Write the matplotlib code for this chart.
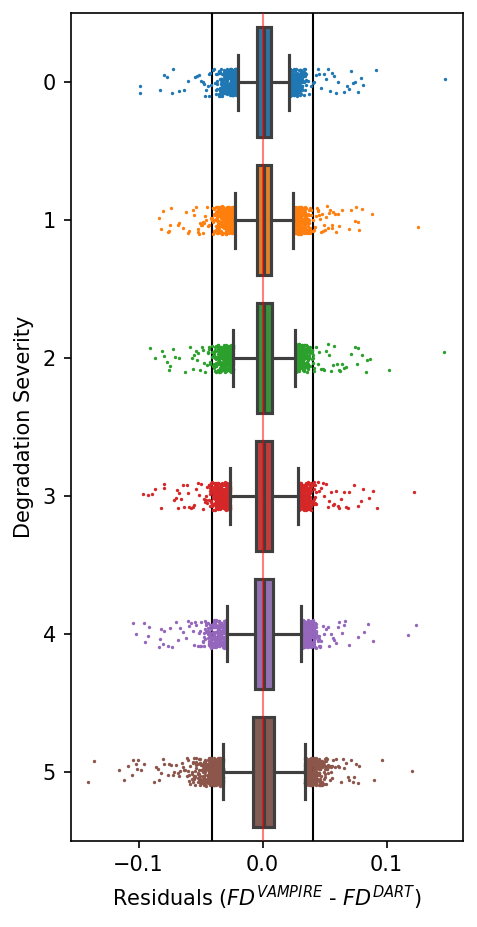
import matplotlib
matplotlib.use("Agg")
import matplotlib.pyplot as plt
import numpy as np

severity = [0, 1, 2, 3, 4, 5]

# box statistics per severity level
q1 = [-0.0042, -0.0042, -0.0048, -0.0056, -0.0064, -0.0074]
med = [0.0010, 0.0011, 0.0010, 0.0011, 0.0011, 0.0012]
q3 = [0.0066, 0.0069, 0.0073, 0.0077, 0.0081, 0.0090]
whis_lo = [-0.0199, -0.0222, -0.0237, -0.0261, -0.0287, -0.0318]
whis_hi = [0.0215, 0.0248, 0.0262, 0.0284, 0.0309, 0.0342]

# sparse outliers, read one by one
tail_0 = [-0.0989, -0.0986, -0.0825, -0.0793, -0.0774, -0.0734, -0.0720, -0.0677, -0.0632, -0.0599,
          -0.0546, -0.0530, -0.0511, -0.0497, -0.0484, -0.0470, -0.0462, -0.0457, -0.0444, -0.0435,
          -0.0430, -0.0422, -0.0417, -0.0403, -0.0395, -0.0384,
          0.0363, 0.0376, 0.0390, 0.0403, 0.0417, 0.0430, 0.0444, 0.0457, 0.0470, 0.0492,
          0.0511, 0.0524, 0.0546, 0.0559, 0.0578, 0.0591, 0.0605, 0.0659, 0.0680, 0.0699,
          0.0712, 0.0726, 0.0745, 0.0766, 0.0793, 0.0809, 0.0914, 0.1470]
tail_1 = [-0.0833, -0.0820, -0.0806, -0.0766, -0.0753, -0.0745, -0.0739, -0.0685, -0.0672, -0.0645,
          -0.0618, -0.0605, -0.0591, -0.0565, -0.0551, -0.0540, -0.0524, -0.0518, -0.0511, -0.0505,
          -0.0497, -0.0490, -0.0484, -0.0478, -0.0470, -0.0463, -0.0457, -0.0449, -0.0444, -0.0430,
          -0.0417,
          0.0417, 0.0421, 0.0430, 0.0438, 0.0444, 0.0449, 0.0457, 0.0463, 0.0470, 0.0477,
          0.0484, 0.0497, 0.0502, 0.0511, 0.0517, 0.0524, 0.0533, 0.0546, 0.0556, 0.0561,
          0.0570, 0.0583, 0.0591, 0.0605, 0.0618, 0.0637, 0.0699, 0.0712, 0.0745, 0.0753,
          0.0766, 0.0780, 0.0798, 0.0882, 0.1250]
tail_2 = [-0.0906, -0.0868, -0.0815, -0.0793, -0.0769, -0.0758, -0.0745, -0.0726, -0.0707, -0.0677,
          -0.0624, -0.0583, -0.0573, -0.0565, -0.0556, -0.0538, -0.0530, -0.0519, -0.0503, -0.0492,
          -0.0484,
          0.0430, 0.0444, 0.0457, 0.0470, 0.0484, 0.0497, 0.0511, 0.0524, 0.0538, 0.0551,
          0.0565, 0.0578, 0.0599, 0.0618, 0.0626, 0.0637, 0.0659, 0.0672, 0.0712, 0.0747,
          0.0761, 0.0772, 0.0798, 0.0833, 0.0839, 0.0868, 0.1022, 0.1462]
tail_3 = [-0.0962, -0.0927, -0.0890, -0.0868, -0.0820, -0.0798, -0.0793, -0.0712, -0.0699, -0.0691,
          -0.0685, -0.0672, -0.0659, -0.0645, -0.0632, -0.0610, -0.0599, -0.0591, -0.0578, -0.0565,
          -0.0551, -0.0538, -0.0524, -0.0511, -0.0497, -0.0484,
          0.0444, 0.0457, 0.0470, 0.0484, 0.0497, 0.0511, 0.0524, 0.0538, 0.0551, 0.0565,
          0.0578, 0.0591, 0.0605, 0.0618, 0.0632, 0.0659, 0.0672, 0.0685, 0.0699, 0.0734,
          0.0772, 0.0793, 0.0812, 0.0860, 0.0892, 0.0922, 0.1218]
tail_4 = [-0.1043, -0.1022, -0.0960, -0.0949, -0.0927, -0.0914, -0.0833, -0.0825, -0.0820, -0.0806,
          -0.0793, -0.0761, -0.0747, -0.0731, -0.0699, -0.0680, -0.0664, -0.0645, -0.0618, -0.0605,
          -0.0591, -0.0578,
          0.0470, 0.0484, 0.0497, 0.0511, 0.0524, 0.0538, 0.0551, 0.0565, 0.0578, 0.0591,
          0.0605, 0.0618, 0.0637, 0.0653, 0.0664, 0.0699, 0.0766, 0.0815, 0.0847, 0.0887,
          0.1175, 0.1237]
tail_5 = [-0.1406, -0.1363, -0.1156, -0.1121, -0.1083, -0.1054, -0.1048, -0.1022, -0.1013, -0.1008,
          -0.0981, -0.0960, -0.0874, -0.0860, -0.0847, -0.0833, -0.0820, -0.0806, -0.0793, -0.0766,
          -0.0753, -0.0739, -0.0726, -0.0712, -0.0699, -0.0685, -0.0672,
          0.0591, 0.0605, 0.0618, 0.0632, 0.0645, 0.0659, 0.0672, 0.0685, 0.0699, 0.0712,
          0.0726, 0.0739, 0.0753, 0.0766, 0.0780, 0.0901, 0.0960, 0.1202]

# dense clusters next to the whiskers, as bin centres (width 0.001) and point counts
core_x_0 = [-0.0205, -0.0215, -0.0225, -0.0235, -0.0245, -0.0255, -0.0265, -0.0275, -0.0285,
            -0.0295, -0.0305, -0.0315, -0.0325, -0.0335, -0.0345, -0.0355, -0.0365, -0.0375,
            0.0220, 0.0230, 0.0240, 0.0250, 0.0260, 0.0270, 0.0280, 0.0290, 0.0300, 0.0310,
            0.0320, 0.0330, 0.0340, 0.0350]
core_n_0 = [24, 24, 23, 22, 22, 21, 20, 19, 18, 17, 16, 14, 12, 10, 8, 6, 4, 3,
            24, 24, 23, 23, 22, 21, 20, 18, 16, 14, 11, 8, 5, 3]
core_x_1 = [-0.0228, -0.0238, -0.0248, -0.0258, -0.0268, -0.0278, -0.0288, -0.0298, -0.0308,
            -0.0318, -0.0328, -0.0338, -0.0348, -0.0358, -0.0368, -0.0378, -0.0388, -0.0398, -0.0408,
            0.0253, 0.0263, 0.0273, 0.0283, 0.0293, 0.0303, 0.0313, 0.0323, 0.0333, 0.0343,
            0.0353, 0.0363, 0.0373, 0.0383, 0.0393, 0.0403]
core_n_1 = [24, 24, 24, 23, 22, 22, 21, 20, 19, 18, 17, 16, 14, 12, 10, 8, 6, 4, 3,
            24, 24, 23, 23, 22, 21, 20, 18, 16, 13, 10, 8, 6, 4, 3, 2]
core_x_2 = [-0.0242, -0.0252, -0.0262, -0.0272, -0.0282, -0.0292, -0.0302, -0.0312, -0.0322,
            -0.0332, -0.0342, -0.0352, -0.0362, -0.0372, -0.0382, -0.0392, -0.0402, -0.0412,
            -0.0422, -0.0432, -0.0442, -0.0452, -0.0462, -0.0472,
            0.0266, 0.0276, 0.0286, 0.0296, 0.0306, 0.0316, 0.0326, 0.0336, 0.0346, 0.0356,
            0.0366, 0.0376, 0.0386, 0.0396, 0.0406, 0.0416]
core_n_2 = [24, 24, 23, 22, 22, 21, 20, 19, 18, 16, 14, 12, 10, 8, 6, 5, 4, 3, 3, 2, 2, 1, 1, 1,
            24, 24, 23, 22, 21, 20, 18, 16, 14, 12, 9, 7, 5, 4, 3, 2]
core_x_3 = [-0.0266, -0.0276, -0.0286, -0.0296, -0.0306, -0.0316, -0.0326, -0.0336, -0.0346,
            -0.0356, -0.0366, -0.0376, -0.0386, -0.0396, -0.0406, -0.0416, -0.0426, -0.0436,
            -0.0446, -0.0456, -0.0466, -0.0476,
            0.0293, 0.0303, 0.0313, 0.0323, 0.0333, 0.0343, 0.0353, 0.0363, 0.0373, 0.0383,
            0.0393, 0.0403, 0.0413, 0.0423, 0.0433]
core_n_3 = [24, 24, 23, 22, 22, 21, 20, 19, 18, 17, 15, 13, 11, 9, 7, 5, 4, 3, 2, 2, 1, 1,
            24, 24, 23, 22, 21, 20, 18, 16, 14, 12, 9, 6, 4, 3, 2]
core_x_4 = [-0.0293, -0.0303, -0.0313, -0.0323, -0.0333, -0.0343, -0.0353, -0.0363, -0.0373,
            -0.0383, -0.0393, -0.0403, -0.0413, -0.0423, -0.0433, -0.0443, -0.0453, -0.0463,
            -0.0473, -0.0483, -0.0493, -0.0503, -0.0513, -0.0523, -0.0533, -0.0543, -0.0553, -0.0563,
            0.0314, 0.0324, 0.0334, 0.0344, 0.0354, 0.0364, 0.0374, 0.0384, 0.0394, 0.0404,
            0.0414, 0.0424, 0.0434, 0.0444, 0.0454, 0.0464]
core_n_4 = [24, 24, 23, 22, 22, 21, 20, 19, 18, 16, 14, 12, 10, 8, 6, 5, 4, 3, 3, 2, 2, 2, 1, 1, 1, 1, 1, 1,
            24, 24, 23, 22, 21, 20, 19, 17, 15, 13, 11, 8, 6, 4, 3, 2]
core_x_5 = [-0.0323, -0.0333, -0.0343, -0.0353, -0.0363, -0.0373, -0.0383, -0.0393, -0.0403,
            -0.0413, -0.0423, -0.0433, -0.0443, -0.0453, -0.0463, -0.0473, -0.0483, -0.0493,
            -0.0503, -0.0513, -0.0523, -0.0533, -0.0543, -0.0553, -0.0563, -0.0573, -0.0583,
            -0.0593, -0.0603, -0.0613, -0.0623, -0.0633, -0.0643, -0.0653, -0.0663,
            0.0341, 0.0351, 0.0361, 0.0371, 0.0381, 0.0391, 0.0401, 0.0411, 0.0421, 0.0431,
            0.0441, 0.0451, 0.0461, 0.0471, 0.0481, 0.0491, 0.0501, 0.0511, 0.0521, 0.0531,
            0.0541, 0.0551, 0.0561, 0.0571, 0.0581]
core_n_5 = [24, 24, 24, 23, 22, 22, 21, 20, 19, 18, 17, 16, 15, 14, 12, 10, 9, 8, 7, 6,
            5, 5, 4, 4, 3, 3, 2, 2, 2, 2, 1, 1, 1, 1, 1,
            24, 24, 23, 23, 22, 21, 20, 19, 18, 16, 14, 12, 10, 8, 7, 6, 5, 4, 3, 3, 2, 2, 2, 1, 1]

tails = [tail_0, tail_1, tail_2, tail_3, tail_4, tail_5]
core_x = [core_x_0, core_x_1, core_x_2, core_x_3, core_x_4, core_x_5]
core_n = [core_n_0, core_n_1, core_n_2, core_n_3, core_n_4, core_n_5]

point_colors = ['#1f77b4', '#ff7f0e', '#2ca02c', '#d62728', '#9467bd', '#8c564b']
box_colors = ['#3274a1', '#e1812c', '#3a923a', '#c03d3e', '#9372b2', '#845b53']
line_gray = '#3f3f3f'
threshold = 0.041

fig, ax = plt.subplots(figsize=(477 / 150, 927 / 150), dpi=150)
fig.subplots_adjust(left=0.148, right=0.970, bottom=0.093, top=0.9857)

ax.axvline(-threshold, color='black', lw=1, zorder=1)
ax.axvline(threshold, color='black', lw=1, zorder=1)

# strip of the outlying points, jittered across the category like seaborn does
rng = np.random.default_rng(7)
for i in range(len(severity)):
    pts = np.concatenate([tails[i], np.repeat(core_x[i], core_n[i])])
    jitter = rng.uniform(-0.1, 0.1, len(pts))
    ax.scatter(pts, severity[i] + jitter, s=2.6, color=point_colors[i],
               linewidths=0, zorder=2)

stats = [dict(med=med[i], q1=q1[i], q3=q3[i], whislo=whis_lo[i], whishi=whis_hi[i], fliers=[])
         for i in range(len(severity))]
kw = dict(positions=severity, widths=0.8, patch_artist=True, showfliers=False, manage_ticks=False,
          boxprops=dict(edgecolor=line_gray, linewidth=1.5),
          whiskerprops=dict(color=line_gray, linewidth=1.5),
          capprops=dict(color=line_gray, linewidth=1.5),
          medianprops=dict(color=line_gray, linewidth=1.5))
try:
    bp = ax.bxp(stats, orientation='horizontal', **kw)
except TypeError:
    bp = ax.bxp(stats, vert=False, **kw)
for patch, c in zip(bp['boxes'], box_colors):
    patch.set_facecolor(c)
    patch.set_zorder(3)
for key in ('whiskers', 'caps', 'medians'):
    for ln in bp[key]:
        ln.set_zorder(3)

ax.axvline(0, color='red', alpha=0.5, lw=1, zorder=4)

ax.set_xlim(-0.1548, 0.1613)
ax.set_ylim(5.5, -0.5)
ax.set_yticks(severity)
ax.set_yticklabels([str(s) for s in severity])
ax.set_xticks([-0.1, 0.0, 0.1])
ax.set_xlabel('Residuals ($FD^{VAMPIRE}$ - $FD^{DART}$)')
ax.set_ylabel('Degradation Severity')

fig.savefig('out.png', dpi=150)
